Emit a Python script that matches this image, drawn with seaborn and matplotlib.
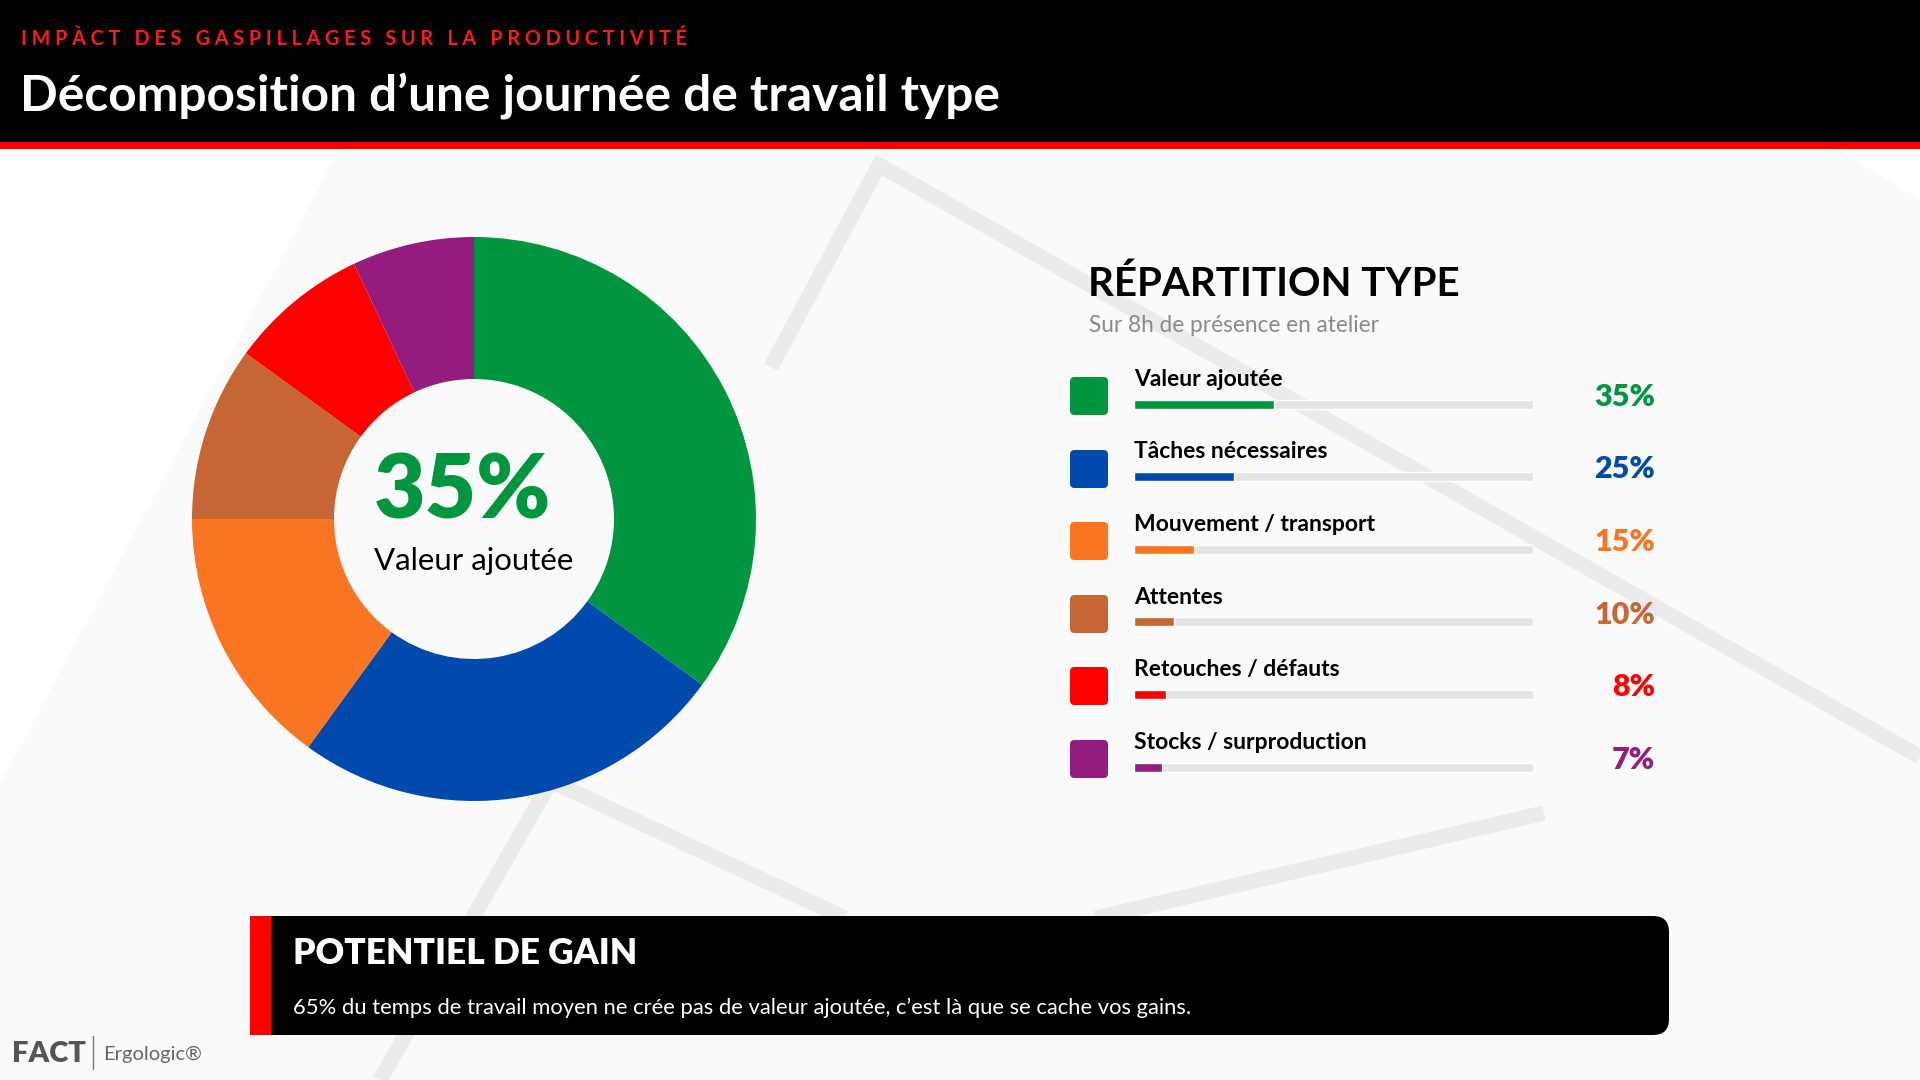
import matplotlib
matplotlib.use("Agg")
import matplotlib.pyplot as plt
import seaborn as sns
from matplotlib.patches import Rectangle, FancyBboxPatch, Polygon

# Data
categories = ["Valeur ajoutée", "Tâches nécessaires", "Mouvement / transport",
              "Attentes", "Retouches / défauts", "Stocks / surproduction"]
values = [35, 25, 15, 10, 8, 7]
colors = ["#009640", "#004aad", "#fa7521", "#c56634", "#ff0000", "#931c7e"]
pct_labels = ["35%", "25%", "15%", "10%", "8%", "7%"]

kicker = "IMPÀCT DES GASPILLAGES SUR LA PRODUCTIVITÉ"
title = "Décomposition d’une journée de travail type"
panel_title = "RÉPARTITION TYPE"
panel_sub = "Sur 8h de présence en atelier"
center_value = "35%"
center_label = "Valeur ajoutée"
box_title = "POTENTIEL DE GAIN"
box_text = "65% du temps de travail moyen ne crée pas de valeur ajoutée, c’est là que se cache vos gains."

sns.set_theme(style="white")
plt.rcParams["font.family"] = ["Lato", "DejaVu Sans"]

W, H = 1920, 1080
fig = plt.figure(figsize=(19.2, 10.8), dpi=100)
fig.patch.set_facecolor("white")


def px_rect(x0, y0, x1, y1):
    return [x0 / W, 1 - y1 / H, (x1 - x0) / W, (y1 - y0) / H]


# background / decoration axes in pixel coords
bg = fig.add_axes([0, 0, 1, 1])
bg.set_xlim(0, W)
bg.set_ylim(H, 0)
bg.axis("off")

bg.add_patch(Polygon([(355, 120), (1790, 120), (1920, 200), (1920, 1080),
                      (0, 1080), (0, 784)], closed=True, color="#fafafa", lw=0,
                     zorder=0))
stripe = dict(color="#ebebeb", lw=11, solid_capstyle="butt",
              solid_joinstyle="miter", zorder=0.5)
bg.plot([771, 879, 1920], [367, 165, 757], **stripe)
bg.plot([540, 845], [776, 918], **stripe)
bg.plot([1544, 1096], [813, 918], **stripe)
bg.plot([556, 380], [772, 1080], **stripe)

# header
bg.add_patch(Rectangle((0, 0), W, 142, color="black", lw=0, zorder=3))
bg.add_patch(Rectangle((0, 142), W, 7, color="#ff0000", lw=0, zorder=3))
spaced = "   ".join(" ".join(w) for w in kicker.split(" "))
bg.text(21, 39, spaced, color="#ff1a1a", fontsize=14.2, weight="bold",
        ha="left", va="center", zorder=4)
bg.text(20, 97, title, color="white", fontsize=35.7, weight="bold",
        ha="left", va="center", zorder=4)

# right panel texts
bg.text(1088, 284, panel_title, color="black", fontsize=29, weight="bold",
        ha="left", va="center")
bg.text(1089, 326, panel_sub, color="#8a8a8a", fontsize=16.3,
        ha="left", va="center")

# bottom box
bg.add_patch(FancyBboxPatch((250, 916), 1419, 119,
                            boxstyle="round,pad=0,rounding_size=16",
                            color="black", lw=0, zorder=3))
bg.add_patch(Rectangle((250, 916), 21, 119, color="#ff0000", lw=0, zorder=3))
bg.text(293, 954, box_title, color="white", fontsize=25.5, weight="heavy",
        ha="left", va="center", zorder=4)
bg.text(293, 1008, box_text, color="white", fontsize=15.8,
        ha="left", va="center", zorder=4)

# footer
bg.text(12, 1054, "FACT", color="#555555", fontsize=21, weight="heavy",
        ha="left", va="center", zorder=4)
bg.plot([93, 93], [1036, 1069], color="#777777", lw=1, zorder=4)
bg.text(103, 1054, "Ergologic®", color="#666666", fontsize=14.5,
        ha="left", va="center", zorder=4)

# donut
cx, cy, r_out = 474, 519, 282
pie_ax = fig.add_axes(px_rect(cx - r_out, cy - r_out, cx + r_out, cy + r_out))
pie_ax.pie(values, colors=colors, startangle=90, counterclock=False, radius=1,
           wedgeprops=dict(width=1 - 140 / 282, linewidth=0))
pie_ax.set_xlim(-1, 1)
pie_ax.set_ylim(-1, 1)
pie_ax.axis("off")
pie_ax.text(-0.04, 0.095, center_value, color=colors[0], fontsize=64, weight="heavy",
            ha="center", va="center")
pie_ax.text(0, -0.15, center_label, color="black", fontsize=22.5,
            ha="center", va="center")

# progress bars
row_h = 72.6
bar_y0 = 404
bar_ax = fig.add_axes(px_rect(1134, bar_y0 - row_h / 2, 1533,
                              bar_y0 + row_h * 5.5))
bar_w = 9 / row_h
sns.barplot(x=[100] * len(categories), y=categories, color="#e4e4e4",
            width=bar_w, orient="h", ax=bar_ax, saturation=1)
sns.barplot(x=values, y=categories, hue=categories, palette=colors,
            width=bar_w, orient="h", ax=bar_ax, legend=False, saturation=1)
bar_ax.set_xlim(0, 100)
bar_ax.set_ylim(len(categories) - 0.5, -0.5)
bar_ax.axis("off")
bar_ax.patch.set_alpha(0)

x_per_px = 100 / (1533 - 1134)
for i, (cat, c, p) in enumerate(zip(categories, colors, pct_labels)):
    bar_ax.text(0, i - 0.34, cat, color="black", fontsize=16.5, weight="bold",
                ha="left", va="center", clip_on=False)
    bar_ax.text((1655 - 1134) * x_per_px, i - 0.1, p, color=c, fontsize=22,
                weight="heavy", ha="right", va="center", clip_on=False)
    bar_ax.scatter([(1089 - 1134) * x_per_px], [i - 0.11], marker="s",
                   s=(30 * 0.72) ** 2, color=c, edgecolor=c, linewidth=8 * 0.72,
                   clip_on=False, zorder=5)
for coll in bar_ax.collections:
    coll.set_joinstyle("round")

fig.savefig("out.png", dpi=100, facecolor="white")
